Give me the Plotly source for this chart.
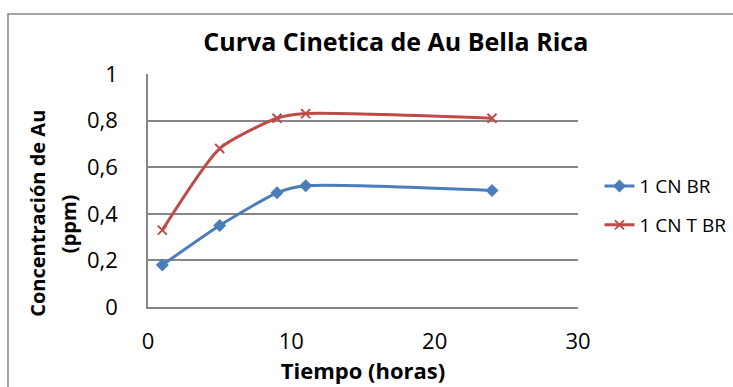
import plotly.graph_objects as go

# Tiempo de muestreo (horas) y concentración de Au (ppm)
tiempo = [1, 5, 9, 11, 24]
cn_br = [0.18, 0.35, 0.49, 0.52, 0.50]
cn_t_br = [0.33, 0.68, 0.81, 0.83, 0.81]
series_names = ["1 CN BR", "1 CN T BR"]
x_ticks = [0, 10, 20, 30]
y_ticks = [0, 0.2, 0.4, 0.6, 0.8, 1]

BLUE = "#4A7EBB"
RED = "#BE4B48"
GRID = "#868686"
FONT = "Open Sans, sans-serif"

fig = go.Figure()
fig.add_trace(go.Scatter(
    x=tiempo, y=cn_br, name=series_names[0], mode="lines+markers",
    line=dict(color=BLUE, width=3, shape="spline", smoothing=0.6),
    marker=dict(symbol="diamond", size=10, color=BLUE),
    legend="legend",
))
fig.add_trace(go.Scatter(
    x=tiempo, y=cn_t_br, name=series_names[1], mode="lines+markers",
    line=dict(color=RED, width=3, shape="spline", smoothing=0.6),
    marker=dict(symbol="x-thin", size=9, color=RED, line=dict(color=RED, width=2)),
    legend="legend2",
))

legend_common = dict(
    xanchor="left", yanchor="middle", bgcolor="rgba(0,0,0,0)",
    font=dict(family=FONT, size=19, color="#000000"),
    itemwidth=30,
)

fig.update_layout(
    width=733, height=387,
    margin=dict(l=148, r=155, t=74, b=80, autoexpand=False),
    paper_bgcolor="white", plot_bgcolor="white",
    separators=", ",
    font=dict(family=FONT, color="#000000"),
    showlegend=True,
    legend=dict(x=1.05, y=0.519, **legend_common),
    legend2=dict(x=1.05, y=0.352, **legend_common),
    title=dict(
        text="<b>Curva Cinetica de Au Bella Rica</b>",
        x=0.54, xref="container", xanchor="center",
        y=0.891, yref="container", yanchor="middle",
        font=dict(family=FONT, size=25, color="#000000"),
    ),
    xaxis=dict(
        range=[0, 30], tickvals=x_ticks, showgrid=False, zeroline=False,
        showline=True, linecolor=GRID, linewidth=1.5,
        ticks="", ticklabelstandoff=14,
        tickfont=dict(family=FONT, size=22, color="#000000"),
        title=dict(text="<b>Tiempo (horas)</b>", standoff=2,
                   font=dict(family=FONT, size=22, color="#000000")),
    ),
    yaxis=dict(
        range=[0, 1], tickvals=y_ticks, tickformat=".1~f",
        showgrid=True, gridcolor=GRID, gridwidth=1.5, zeroline=False,
        showline=True, linecolor=GRID, linewidth=1.5,
        ticks="", ticklabelstandoff=24,
        tickfont=dict(family=FONT, size=22, color="#000000"),
    ),
    annotations=[
        dict(
            text="<b>Concentración de Au</b>",
            x=-0.256, xref="paper", xanchor="center",
            y=0.404, yref="paper", yanchor="middle",
            textangle=-90, showarrow=False,
            font=dict(family=FONT, size=20, color="#000000"),
        ),
        dict(
            text="<b>(ppm)</b>",
            x=-0.183, xref="paper", xanchor="center",
            y=0.357, yref="paper", yanchor="middle",
            textangle=-90, showarrow=False,
            font=dict(family=FONT, size=20, color="#000000"),
        ),
    ],
    shapes=[
        # Marco exterior del gráfico
        dict(type="rect", xref="paper", yref="paper",
             x0=-0.3256, x1=1.6, y0=-0.6, y1=1.2575,
             line=dict(color=GRID, width=1.5), fillcolor="rgba(0,0,0,0)",
             layer="below"),
    ],
)

fig.write_html("out.html")
